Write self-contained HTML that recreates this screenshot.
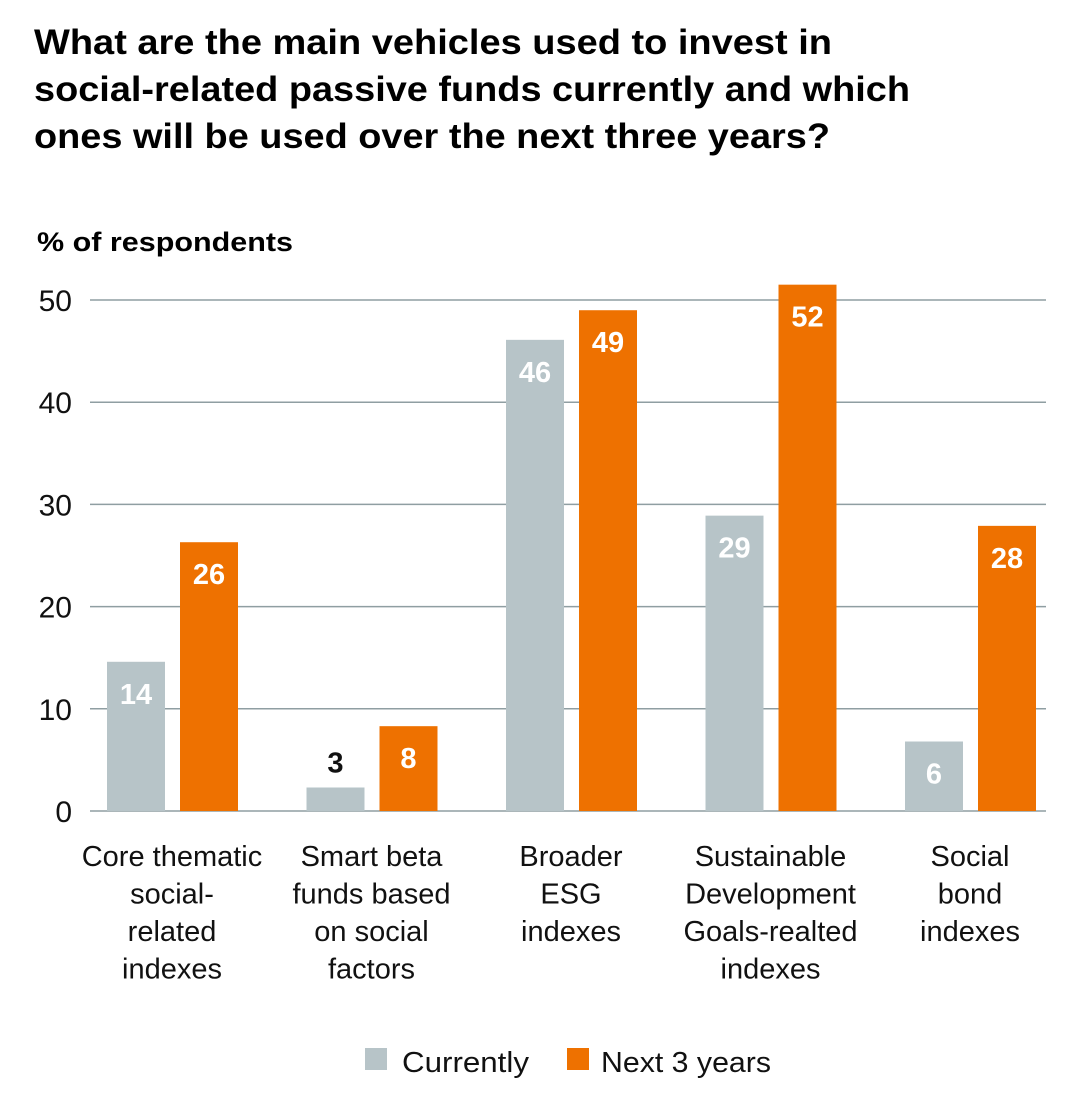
<!DOCTYPE html>
<html><head><meta charset="utf-8"><style>
body{margin:0;background:#fff;width:1090px;height:1105px;overflow:hidden;font-family:"Liberation Sans",sans-serif;}
svg text{font-family:"Liberation Sans",sans-serif;}
</style></head><body>
<svg id="chart" width="1090" height="1105" xmlns="http://www.w3.org/2000/svg">
<text font-size="35" font-weight="bold" fill="#000">
<tspan x="34" y="54" textLength="798" lengthAdjust="spacingAndGlyphs">What are the main vehicles used to invest in</tspan>
<tspan x="34" y="101" textLength="876" lengthAdjust="spacingAndGlyphs">social-related passive funds currently and which</tspan>
<tspan x="34" y="148" textLength="796" lengthAdjust="spacingAndGlyphs">ones will be used over the next three years?</tspan>
</text>
<text x="37" y="251" font-size="27" font-weight="bold" fill="#000" textLength="256" lengthAdjust="spacingAndGlyphs">% of respondents</text>
<g id="grid"></g>
<g id="bars"></g>
<g id="cats"></g>
<g>
<rect x="365" y="1048" width="22" height="22" fill="#b7c4c8"/>
<text x="402" y="1072" font-size="29" fill="#111" textLength="127" lengthAdjust="spacingAndGlyphs">Currently</text>
<rect x="567" y="1048" width="22" height="22" fill="#ee7100"/>
<text x="601" y="1072" font-size="29" fill="#111" textLength="170" lengthAdjust="spacingAndGlyphs">Next 3 years</text>
</g>
</svg>
<script>
const categories=[["Core thematic","social-","related","indexes"],["Smart beta","funds based","on social","factors"],["Broader","ESG","indexes"],["Sustainable","Development","Goals-realted","indexes"],["Social","bond","indexes"]];
const currentValues=[14.6,2.3,46.1,28.9,6.8];
const currentLabels=["14","3","46","29","6"];
const nextValues=[26.3,8.3,49.0,51.5,27.9];
const nextLabels=["26","8","49","52","28"];
const yTicks=[0,10,20,30,40,50];
const NS="http://www.w3.org/2000/svg";
const y0=811,pxPer=10.22;
function yScale(v){return y0-v*pxPer;}
function xGroup(i){return 107+i*199.5;}
function mk(tag,attrs,parent){const e=document.createElementNS(NS,tag);for(const k in attrs)e.setAttribute(k,attrs[k]);parent.appendChild(e);return e;}
const grid=document.getElementById('grid'),bars=document.getElementById('bars'),cats=document.getElementById('cats');
yTicks.forEach(t=>{
  const l=mk('line',{x1:90,x2:1046,y1:yScale(t),y2:yScale(t),stroke:'#8f9ea2','stroke-width':1.5},grid);
  
  
  const tx=mk('text',{x:72,y:yScale(t)+11,'font-size':30,'text-anchor':'end',fill:'#111'},grid);
  tx.textContent=t;
  
  
});
function drawBar(x,v,lab,color,name){
  const top=yScale(v);
  const r=mk('rect',{x:x,y:top,width:58,height:y0-top,fill:color},bars);
  
  
  const inside=(y0-top)>45;
  const t=mk('text',{x:x+29,y:inside?top+42:top-15,'font-size':29,'font-weight':'bold','text-anchor':'middle',fill:inside?'#fff':'#111'},bars);
  t.textContent=lab;
  
  
}
categories.forEach((c,i)=>{
  const x=xGroup(i);
  drawBar(x,currentValues[i],currentLabels[i],'#b7c4c8','bar-currently-'+i);
  drawBar(x+73,nextValues[i],nextLabels[i],'#ee7100','bar-next-3-years-'+i);
  const t=mk('text',{'font-size':29,'text-anchor':'middle',fill:'#111'},cats);
  
  
  c.forEach((line,j)=>{const s=mk('tspan',{x:x+65,y:866+j*37.5},t);s.textContent=line;});
});
</script>
</body></html>
